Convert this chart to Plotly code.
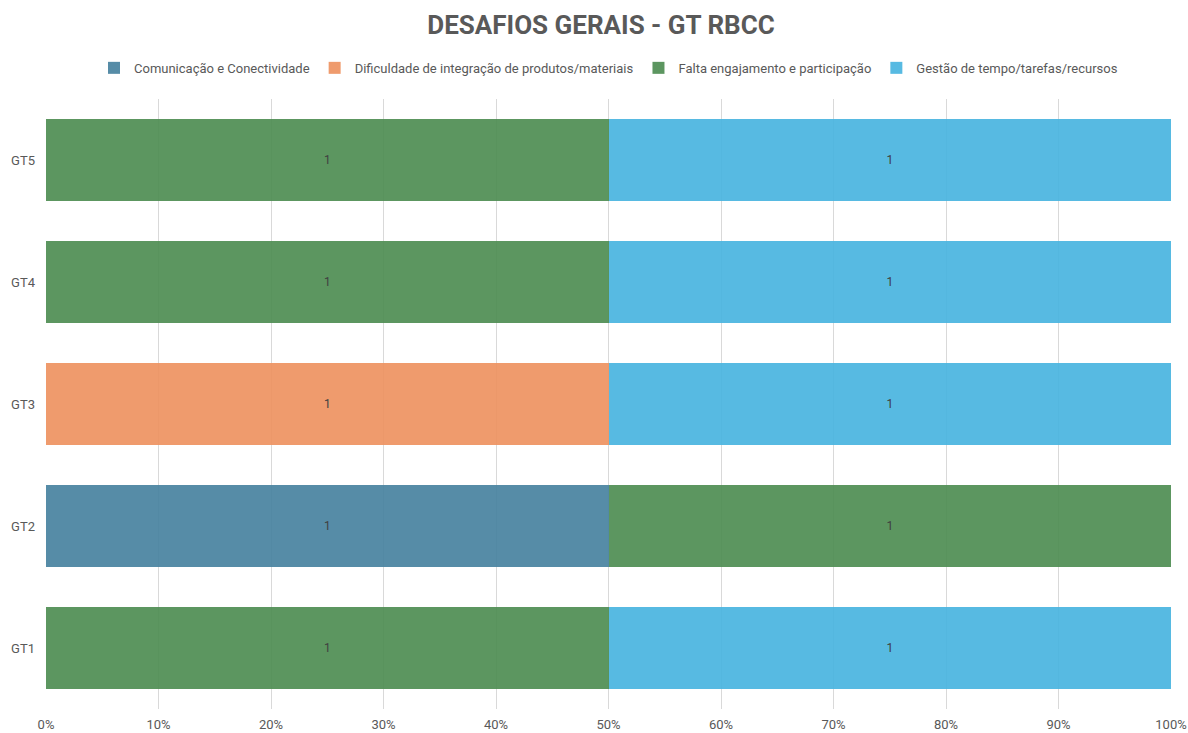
import plotly.graph_objects as go

categories = ["GT1", "GT2", "GT3", "GT4", "GT5"]
series_names = [
    "Comunicação e Conectividade",
    "Dificuldade de integração de produtos/materiais",
    "Falta engajamento e participação",
    "Gestão de tempo/tarefas/recursos",
]
comunicacao = [None, 1, None, None, None]
dificuldade = [None, None, 1, None, None]
falta = [1, 1, None, 1, 1]
gestao = [1, None, 1, 1, 1]
series_values = [comunicacao, dificuldade, falta, gestao]
colors = [
    "rgba(72,130,159,0.92)",
    "rgba(238,146,97,0.92)",
    "rgba(78,141,83,0.92)",
    "rgba(73,180,224,0.92)",
]
x_ticks = list(range(0, 101, 10))
x_ticktext = [f"{v}%" for v in x_ticks]

FONT = "Roboto, Inter, 'Open Sans', sans-serif"
GRAY = "#595959"

fig = go.Figure()
for name, vals, col in zip(series_names, series_values, colors):
    fig.add_trace(go.Bar(
        y=categories, x=vals, name=name, orientation="h",
        marker=dict(color=col, line=dict(width=0)),
        text=[("" if v is None else str(v)) for v in vals],
        texttemplate="%{text}",
        textposition="inside", insidetextanchor="middle",
        textfont=dict(color="#404040", size=12, family=FONT),
        hoverinfo="name+x",
    ))

fig.update_layout(
    barmode="stack", barnorm="percent", bargap=0.335,
    width=1188, height=733,
    margin=dict(l=46, r=17, t=99, b=24, autoexpand=False),
    paper_bgcolor="white", plot_bgcolor="white",
    font=dict(family=FONT, color=GRAY, size=12),
    title=dict(text="<b>DESAFIOS GERAIS - GT RBCC</b>", x=601 / 1188, xanchor="center",
               y=1 - 25 / 733, yanchor="middle", yref="container",
               font=dict(size=26, color=GRAY, family=FONT)),
    legend=dict(orientation="h", x=0.5, xanchor="center", y=1.051, yanchor="middle",
                font=dict(size=13, color=GRAY), traceorder="normal",
                itemwidth=30, itemsizing="constant"),
    xaxis=dict(range=[0, 100], tickvals=x_ticks, ticktext=x_ticktext, automargin=False,
               showgrid=True, gridcolor="#d9d9d9", gridwidth=1, zeroline=False,
               showline=False, ticks="", ticklabelstandoff=6,
               tickfont=dict(size=13, color=GRAY)),
    yaxis=dict(categoryorder="array", categoryarray=categories, showgrid=False, automargin=False,
               ticks="", ticklabelstandoff=10, tickfont=dict(size=13, color=GRAY)),
)

fig.write_html(
    "out.html",
    config={"displayModeBar": False},
    post_script="document.body.style.margin='0';document.body.style.overflow='hidden';",
)
